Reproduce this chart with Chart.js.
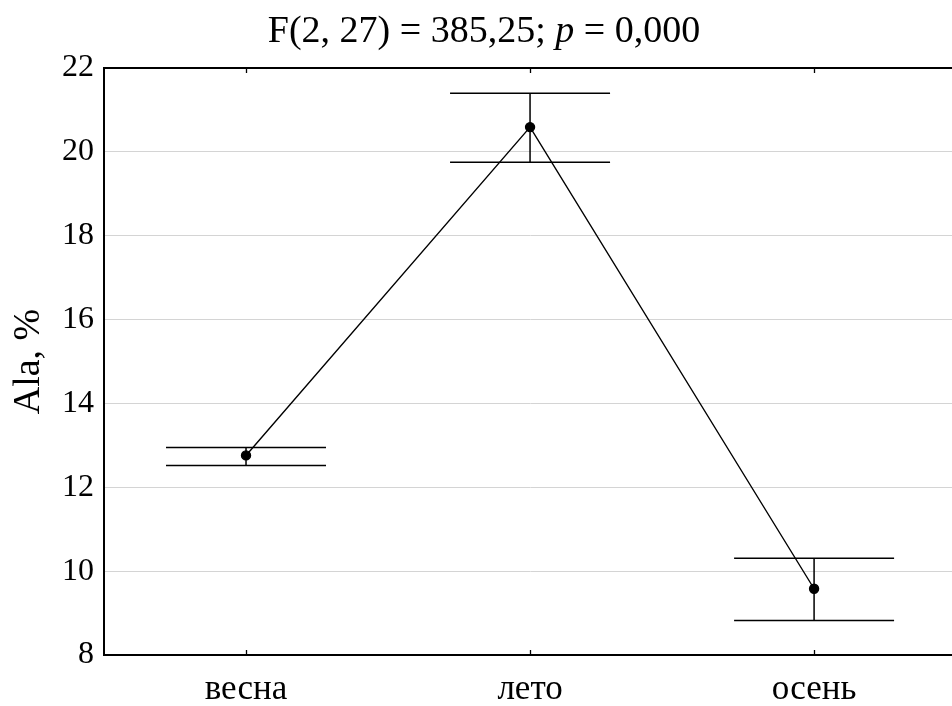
<!DOCTYPE html>
<html>
<head>
<meta charset="utf-8">
<script src="https://cdn.jsdelivr.net/npm/chart.js@4"></script>
<style>
    body { margin: 0; overflow: hidden; background: #fff; }
</style>
</head>
<body>
<canvas id="chart" width="962" height="706"></canvas>
<script>
const seasons = ["весна", "лето", "осень"];
const means = [12.76, 20.59, 9.58];
const lowerBars = [12.52, 19.75, 8.82];
const upperBars = [12.95, 21.4, 10.31];
const yTicks = [8, 10, 12, 14, 16, 18, 20, 22];

const serif = "'Liberation Serif', 'Times New Roman', serif";

// error bars, top frame line, inward ticks, title with italic p
const extras = {
    id: "extras",
    afterDatasetsDraw(chart) {
        const ctx = chart.ctx;
        const x = chart.scales.x;
        const y = chart.scales.y;
        const area = chart.chartArea;
        ctx.save();
        ctx.strokeStyle = "#000";
        ctx.lineWidth = 1.5;
        for (let i = 0; i < seasons.length; i++) {
            const px = x.getPixelForValue(i);
            const top = y.getPixelForValue(upperBars[i]);
            const bot = y.getPixelForValue(lowerBars[i]);
            ctx.beginPath();
            ctx.moveTo(px, top);
            ctx.lineTo(px, bot);
            ctx.moveTo(px - 80, top);
            ctx.lineTo(px + 80, top);
            ctx.moveTo(px - 80, bot);
            ctx.lineTo(px + 80, bot);
            ctx.stroke();
        }
        // top frame
        ctx.lineWidth = 2;
        ctx.beginPath();
        ctx.moveTo(area.left, area.top);
        ctx.lineTo(area.right, area.top);
        ctx.stroke();
        // inward ticks on top and bottom
        ctx.lineWidth = 1.3;
        ctx.beginPath();
        for (let i = 0; i < seasons.length; i++) {
            const px = Math.round(x.getPixelForValue(i)) + 0.5;
            ctx.moveTo(px, area.top);
            ctx.lineTo(px, area.top + 5);
            ctx.moveTo(px, area.bottom);
            ctx.lineTo(px, area.bottom - 5);
        }
        ctx.stroke();

        // title
        const parts = [
            { text: "F(2, 27) = 385,25; ", font: "38px " + serif },
            { text: "p", font: "italic 38px " + serif },
            { text: " = 0,000", font: "38px " + serif }
        ];
        let total = 0;
        parts.forEach(p => { ctx.font = p.font; total += ctx.measureText(p.text).width; });
        let tx = 484 - total / 2;
        ctx.fillStyle = "#000";
        ctx.textBaseline = "alphabetic";
        ctx.textAlign = "left";
        parts.forEach(p => {
            ctx.font = p.font;
            ctx.fillText(p.text, tx, 42);
            tx += ctx.measureText(p.text).width;
        });
        ctx.restore();
    }
};

new Chart(document.getElementById("chart"), {
    type: "line",
    data: {
        labels: seasons,
        datasets: [{
            data: means,
            borderColor: "#000",
            borderWidth: 1.4,
            pointRadius: 4.5,
            pointBackgroundColor: "#000",
            pointBorderColor: "#000",
            tension: 0,
            fill: false
        }]
    },
    options: {
        responsive: false,
        animation: false,
        layout: { padding: { top: 68, right: 2.5, left: 0, bottom: 0 } },
        plugins: { legend: { display: false }, tooltip: { enabled: false } },
        scales: {
            x: {
                offset: true,
                grid: { display: false, drawTicks: false },
                border: { color: "#000", width: 2 },
                ticks: { color: "#000", padding: 14, font: { family: serif, size: 35 } },
                afterFit(scale) { scale.height = 51; }
            },
            y: {
                min: 8,
                max: 22,
                afterBuildTicks(scale) { scale.ticks = yTicks.map(v => ({ value: v })); },
                grid: { color: "#d4d4d4", lineWidth: 1, drawTicks: false },
                border: { color: "#000", width: 2, dash: [] },
                ticks: { color: "#000", padding: 10, font: { family: serif, size: 32 } },
                title: {
                    display: true,
                    text: "Ala, %",
                    color: "#000",
                    font: { family: serif, size: 38 },
                    padding: { top: 6, bottom: 0 }
                },
                afterFit(scale) { scale.width = 104; }
            }
        }
    },
    plugins: [extras]
});
</script>
</body>
</html>
